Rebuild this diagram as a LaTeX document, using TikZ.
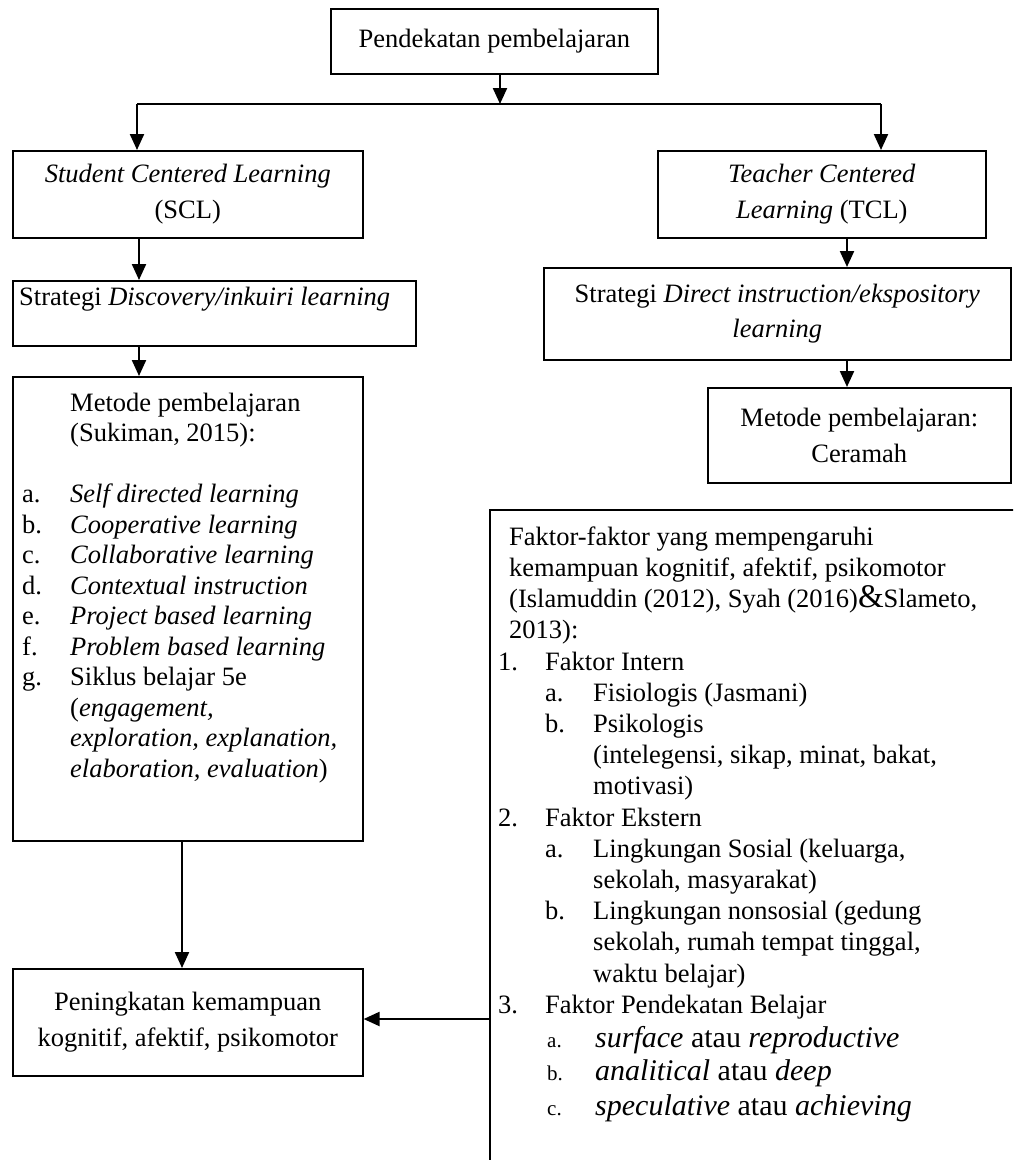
\documentclass[tikz,border=0pt]{standalone}
\usepackage{fontspec}
\setmainfont{Liberation Serif}
\usetikzlibrary{arrows.meta}

\begin{document}
\begin{tikzpicture}[x=1pt, y=-1pt, >={Triangle[length=16pt,width=14pt]},
    box/.style={draw, line width=1.6pt, inner sep=0pt, anchor=north west, align=center,
      font=\fontsize{26.5}{35.5}\selectfont},
    txt/.style={inner sep=0pt, font=\fontsize{26.5}{30.5}\selectfont},
    link/.style={line width=2.2pt}]
    \useasboundingbox (0,0) rectangle (1013,1160);
    \fill[white] (0,0) rectangle (1013,1160);
    \clip (0,0) rectangle (1013,1160);
    % Boxes
    \node[box, minimum width=327pt, minimum height=65pt] (top) at (330,8) {Pendekatan pembelajaran};
    \node[box, minimum width=350pt, minimum height=87pt] (scl) at (12,150) {\textit{Student Centered Learning}\\(SCL)};
    \node[box, minimum width=328pt, minimum height=87pt] (tcl) at (657,150) {\textit{Teacher Centered}\\\textit{Learning} (TCL)};
    \node[box, minimum width=403pt, minimum height=65pt] (disc) at (12,280) {};
    \node[box, minimum width=467pt, minimum height=92pt] (direct) at (543,267) {Strategi \textit{Direct instruction/ekspository}\\\textit{learning}};
    \node[box, minimum width=303pt, minimum height=95pt] (ceramah) at (707,387) {Metode pembelajaran:\\Ceramah};
    \node[box, minimum width=350pt, minimum height=464pt] (metode) at (12,376) {};
    \node[box, minimum width=350pt, minimum height=107pt] (pening) at (12,968) {Peningkatan kemampuan\\kognitif, afektif, psikomotor};
    \node[box, minimum width=571pt, minimum height=691pt] (faktor) at (489,509) {};
    % Texts inside the boxes
    \node[txt, anchor=base west] (disctext) at (19,305) {Strategi \textit{Discovery/inkuiri learning}};
    \node[txt, anchor=north west] (metodetext) at (22,389.6) {%
      \begin{tabular}{@{}p{48pt}@{}l@{}}
        & Metode pembelajaran\\
        & (Sukiman, 2015):\\
        & \\
        a. & \textit{Self directed learning}\\
        b. & \textit{Cooperative learning}\\
        c. & \textit{Collaborative learning}\\
        d. & \textit{Contextual instruction}\\
        e. & \textit{Project based learning}\\
        f. & \textit{Problem based learning}\\
        g. & Siklus belajar 5e\\
        & (\textit{engagement,}\\
        & \textit{exploration, explanation,}\\
        & \textit{elaboration, evaluation})
      \end{tabular}};
    \node[txt, anchor=north west, font=\fontsize{26.5}{31.2}\selectfont] (faktortext) at (498,523.2) {%
      \begin{tabular}{@{}p{47pt}@{}p{48pt}@{}l@{}}
        \multicolumn{3}{@{\hspace{11pt}}l@{}}{Faktor-faktor yang mempengaruhi}\\
        \multicolumn{3}{@{\hspace{11pt}}l@{}}{kemampuan kognitif, afektif, psikomotor}\\
        \multicolumn{3}{@{\hspace{11pt}}l@{}}{(Islamuddin (2012), Syah (2016){\fontsize{33}{31}\selectfont\&}Slameto,}\\
        \multicolumn{3}{@{\hspace{11pt}}l@{}}{2013):}\\
        1. & \multicolumn{2}{@{}l@{}}{Faktor Intern}\\
        & a. & Fisiologis (Jasmani)\\
        & b. & Psikologis\\
        & & (intelegensi, sikap, minat, bakat,\\
        & & motivasi)\\
        2. & \multicolumn{2}{@{}l@{}}{Faktor Ekstern}\\
        & a. & Lingkungan Sosial (keluarga,\\
        & & sekolah, masyarakat)\\
        & b. & Lingkungan nonsosial (gedung\\
        & & sekolah, rumah tempat tinggal,\\
        & & waktu belajar)\\
        3. & \multicolumn{2}{@{}l@{}}{Faktor Pendekatan Belajar}
      \end{tabular}};
    \foreach \i/\y/\lab/\txt in {1/1047/a./{\textit{surface} atau \textit{reproductive}},
        2/1080/b./{\textit{analitical} atau \textit{deep}},
        3/1115/c./{\textit{speculative} atau \textit{achieving}}} {
        \node[txt, anchor=base west, font=\fontsize{21}{26}\selectfont] (lab\i) at (547,\y) {\lab};
        \node[txt, anchor=base west, font=\fontsize{30}{34}\selectfont] (item\i) at (595,\y) {\txt};
    }
    % Connectors
    \coordinate (split) at (500,104);
    \coordinate (sclin) at (137,104);
    \coordinate (tclin) at (881,104);
    \coordinate (xa) at (139,0);
    \coordinate (xb) at (182,0);
    \coordinate (xc) at (847,0);
    \draw[link, ->] (top.south -| split) -- (split);
    \draw[link] (sclin) -- (tclin);
    \draw[link, ->] (sclin) -- (sclin |- scl.north);
    \draw[link, ->] (tclin) -- (tclin |- tcl.north);
    \draw[link, ->] (scl.south -| xa) -- (disc.north -| xa);
    \draw[link, ->] (disc.south -| xa) -- (metode.north -| xa);
    \draw[link, ->] (metode.south -| xb) -- (pening.north -| xb);
    \draw[link, ->] (tcl.south -| xc) -- (direct.north -| xc);
    \draw[link, ->] (direct.south -| xc) -- (ceramah.north -| xc);
    \draw[link, ->] (faktor.west |- 0,1019) -- (pening.east |- 0,1019);
\end{tikzpicture}
\end{document}
